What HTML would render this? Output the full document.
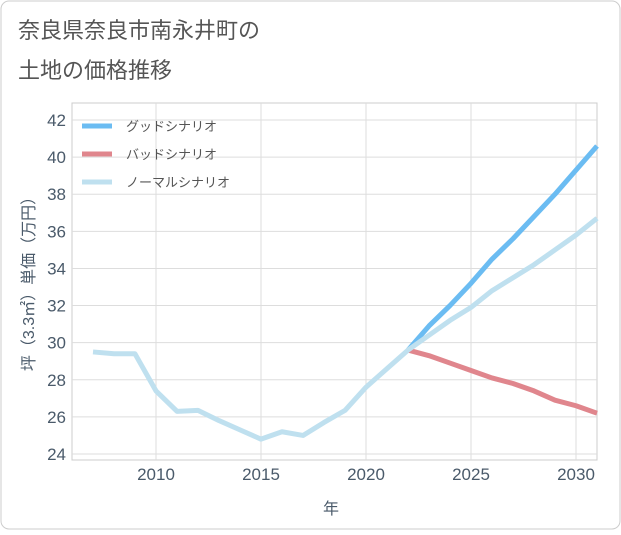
<!DOCTYPE html>
<html><head><meta charset="utf-8"><style>
body{margin:0;background:#fff;font-family:"Liberation Sans","Noto Sans CJK JP",sans-serif;}
#wrap{position:relative;width:621px;height:530px;}
</style></head><body>
<div id="wrap">
<svg id="chart" width="621" height="530" xmlns="http://www.w3.org/2000/svg">
<rect x="1" y="1" width="619" height="528" rx="8" fill="#fff" stroke="#ccc"/>
<text x="18" y="38" font-size="22" fill="#555">奈良県奈良市南永井町の</text>
<text x="18" y="78" font-size="22" fill="#555">土地の価格推移</text>
<g id="grid"></g>
<g id="series"></g>
<text x="331" y="514" font-size="16" fill="#4a5a6a" text-anchor="middle">年</text>
<text transform="translate(34,280) rotate(-90)" font-size="16" fill="#4a5a6a" text-anchor="middle">坪（3.3㎡）単価（万円）</text>
<g id="legend"></g>
</svg>
</div>
<script>
const normalYears=[2007,2008,2009,2010,2011,2012,2013,2014,2015,2016,2017,2018,2019,2020,2021,2022,2023,2024,2025,2026,2027,2028,2029,2030,2031];
const normalValues=[29.5,29.4,29.4,27.4,26.3,26.35,25.8,25.3,24.8,25.2,25.0,25.7,26.35,27.6,28.6,29.6,30.4,31.2,31.9,32.8,33.5,34.2,35.0,35.8,36.7];
const forecastYears=[2022,2023,2024,2025,2026,2027,2028,2029,2030,2031];
const goodValues=[29.6,30.9,32.0,33.2,34.5,35.6,36.8,38.0,39.3,40.6];
const badValues=[29.6,29.3,28.9,28.5,28.1,27.8,27.4,26.9,26.6,26.2];
const yTicks=[24,26,28,30,32,34,36,38,40,42];
const xTicks=[2010,2015,2020,2025,2030];
const NS="http://www.w3.org/2000/svg";
const L=72,R=597,T=103,B=460;
const x=v=>156+(v-2010)*21;
const y=v=>454-(v-24)*18.556;
function mk(tag,attrs,parent){const e=document.createElementNS(NS,tag);for(const k in attrs)e.setAttribute(k,attrs[k]);parent.appendChild(e);return e;}
const grid=document.getElementById('grid');
const frame=mk('rect',{x:L,y:T,width:R-L,height:B-T,fill:'none',stroke:'#ccc'},grid);


yTicks.forEach(v=>{
 const l=mk('line',{x1:L,x2:R,y1:y(v),y2:y(v),stroke:'#ddd'},grid);
 
 
 const t=mk('text',{x:L-6,y:y(v)+6,'font-size':17,fill:'#4a5a6a','text-anchor':'end'},grid);
 t.textContent=v;
 
 
});
xTicks.forEach(v=>{
 const l=mk('line',{x1:x(v),x2:x(v),y1:T,y2:B,stroke:'#ddd'},grid);
 
 
 const t=mk('text',{x:x(v),y:B+20,'font-size':17,fill:'#4a5a6a','text-anchor':'middle'},grid);
 t.textContent=v;
 
 
});
const ser=document.getElementById('series');
function line(xs,vs,color,name){
 const p=mk('polyline',{points:xs.map((yr,i)=>x(yr)+','+y(vs[i])).join(' '),fill:'none',stroke:color,'stroke-width':5,'stroke-linejoin':'round'},ser);
 
 
}
line(forecastYears,goodValues,'#6bbcf2','good-scenario-line');
line(forecastYears,badValues,'#e0868d','bad-scenario-line');
line(normalYears,normalValues,'#bfe0ef','normal-scenario-line');
const leg=document.getElementById('legend');
[['グッドシナリオ','#6bbcf2'],['バッドシナリオ','#e0868d'],['ノーマルシナリオ','#bfe0ef']].forEach((d,i)=>{
 const yy=126+i*28;
 const l=mk('line',{x1:82,x2:112,y1:yy,y2:yy,stroke:d[1],'stroke-width':5},leg);
 
 
 const t=mk('text',{x:126,y:yy+5,'font-size':13,fill:'#555'},leg);
 t.textContent=d[0];
 
 
});
</script>
</body></html>
